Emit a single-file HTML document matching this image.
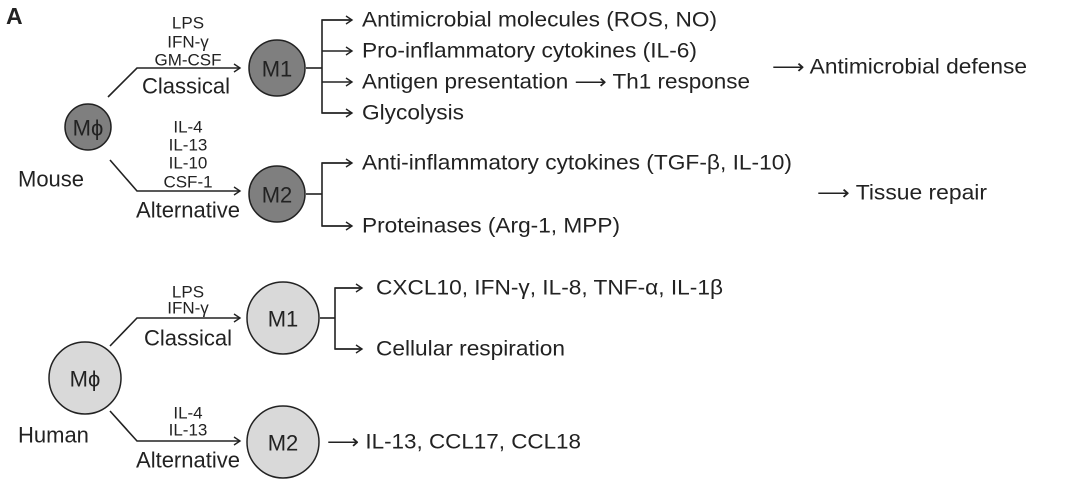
<!DOCTYPE html>
<html><head><meta charset="utf-8"><style>
html,body{margin:0;padding:0;background:#fff;}
svg{display:block;}
text{font-family:"Liberation Sans",sans-serif;fill:#222;}
.s{font-size:17px;text-anchor:middle;}
.l{font-size:21px;}
.m{font-size:22px;}
.c{text-anchor:middle;}
</style></head><body>
<svg width="1080" height="487" viewBox="0 0 1080 487" xmlns="http://www.w3.org/2000/svg">
<defs>
<marker id="a" markerWidth="10" markerHeight="10" refX="8" refY="5" orient="auto" markerUnits="userSpaceOnUse">
<path d="M2,1 L8,5 L2,9" fill="none" stroke="#222" stroke-width="1.4"/>
</marker>
</defs>
<g stroke="#222" stroke-width="1.6" fill="none">
<polyline points="108,97 137,68 240,68" marker-end="url(#a)"/>
<polyline points="110,160 137,191 240,191" marker-end="url(#a)"/>
<line x1="306" y1="68" x2="322" y2="68"/>
<polyline points="352,20 322,20 322,113 352,113"/>
<line x1="322" y1="20" x2="352" y2="20" marker-end="url(#a)"/>
<line x1="322" y1="51" x2="352" y2="51" marker-end="url(#a)"/>
<line x1="322" y1="82" x2="352" y2="82" marker-end="url(#a)"/>
<line x1="322" y1="113" x2="352" y2="113" marker-end="url(#a)"/>
<line x1="306" y1="194" x2="322" y2="194"/>
<polyline points="352,163 322,163 322,226 352,226"/>
<line x1="322" y1="163" x2="352" y2="163" marker-end="url(#a)"/>
<line x1="322" y1="226" x2="352" y2="226" marker-end="url(#a)"/>
<polyline points="110,346 137,318 240,318" marker-end="url(#a)"/>
<polyline points="110,411 137,441 240,441" marker-end="url(#a)"/>
<line x1="320" y1="318" x2="335" y2="318"/>
<polyline points="362,288 335,288 335,349 362,349"/>
<line x1="335" y1="288" x2="362" y2="288" marker-end="url(#a)"/>
<line x1="335" y1="349" x2="362" y2="349" marker-end="url(#a)"/>
</g>
<g stroke="#222" stroke-width="1.5">
<circle cx="88" cy="127" r="23" fill="#7f7f7f"/>
<circle cx="277" cy="68" r="28" fill="#7f7f7f"/>
<circle cx="277" cy="194" r="28" fill="#7f7f7f"/>
<circle cx="85" cy="378" r="36" fill="#d9d9d9"/>
<circle cx="283" cy="318" r="36" fill="#d9d9d9"/>
<circle cx="283" cy="442" r="36" fill="#d9d9d9"/>
</g>
<g dominant-baseline="central">
<text x="6" y="16" style="font-size:23px;font-weight:bold" dominant-baseline="central">A</text>
<text class="m c" x="88" y="128">Mϕ</text>
<text class="m c" x="277" y="69">M1</text>
<text class="m c" x="277" y="195">M2</text>
<text class="m c" x="85" y="379">Mϕ</text>
<text class="m c" x="283" y="319">M1</text>
<text class="m c" x="283" y="443">M2</text>
<text class="s" x="188" y="23">LPS</text>
<text class="s" x="188" y="42">IFN-γ</text>
<text class="s" x="188" y="60">GM-CSF</text>
<text class="m c" x="186" y="86">Classical</text>
<text class="s" x="188" y="127">IL-4</text>
<text class="s" x="188" y="145">IL-13</text>
<text class="s" x="188" y="163">IL-10</text>
<text class="s" x="188" y="182">CSF-1</text>
<text class="m c" x="188" y="210">Alternative</text>
<text class="m" x="18" y="179">Mouse</text>
<text class="s" x="188" y="292">LPS</text>
<text class="s" x="188" y="308">IFN-γ</text>
<text class="m c" x="188" y="338">Classical</text>
<text class="s" x="188" y="413">IL-4</text>
<text class="s" x="188" y="430">IL-13</text>
<text class="m c" x="188" y="460">Alternative</text>
<text class="m" x="18" y="435">Human</text>
<text class="l" x="362" y="20" textLength="355" lengthAdjust="spacingAndGlyphs">Antimicrobial molecules (ROS, NO)</text>
<text class="l" x="362" y="51" textLength="335" lengthAdjust="spacingAndGlyphs">Pro-inflammatory cytokines (IL-6)</text>
<text class="l" x="362" y="82" textLength="388" lengthAdjust="spacingAndGlyphs">Antigen presentation ⟶ Th1 response</text>
<text class="l" x="362" y="113" textLength="102" lengthAdjust="spacingAndGlyphs">Glycolysis</text>
<text class="l" x="362" y="163" textLength="430" lengthAdjust="spacingAndGlyphs">Anti-inflammatory cytokines (TGF-β, IL-10)</text>
<text class="l" x="362" y="226" textLength="258" lengthAdjust="spacingAndGlyphs">Proteinases (Arg-1, MPP)</text>
<text class="l" x="772" y="67" textLength="255" lengthAdjust="spacingAndGlyphs">⟶ Antimicrobial defense</text>
<text class="l" x="817" y="193" textLength="170" lengthAdjust="spacingAndGlyphs">⟶ Tissue repair</text>
<text class="l" x="376" y="288" textLength="347" lengthAdjust="spacingAndGlyphs">CXCL10, IFN-γ, IL-8, TNF-α, IL-1β</text>
<text class="l" x="376" y="349" textLength="189" lengthAdjust="spacingAndGlyphs">Cellular respiration</text>
<text class="l" x="327" y="442" textLength="254" lengthAdjust="spacingAndGlyphs">⟶ IL-13, CCL17, CCL18</text>
</g>
</svg>
</body></html>
